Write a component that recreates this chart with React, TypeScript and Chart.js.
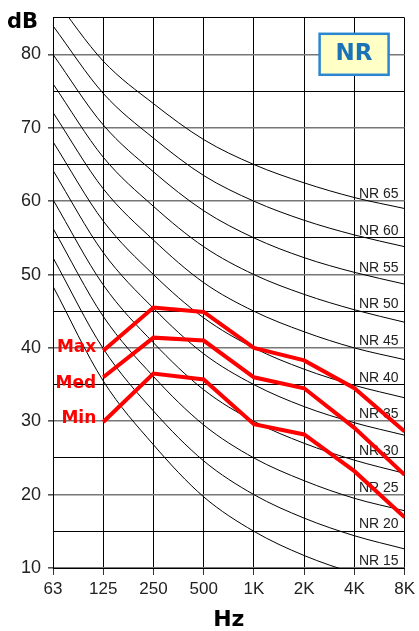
import React, { useEffect, useRef } from 'react';
import { Chart, registerables } from 'chart.js';

Chart.register(...registerables);

// Octave-band centre frequencies (x categories)
const frequencies = ['63', '125', '250', '500', '1K', '2K', '4K', '8K'];

// Y-axis range and tick step (dB)
const yMin = 10;
const yMax = 85;
const yStep = 5;

// NR reference curves (dB per octave band)
const nrLevels = [15, 20, 25, 30, 35, 40, 45, 50, 55, 60, 65];
const nr15 = [48.4, 35.5, 26.8, 19.7, 15, 11.7, 9.3, 7.5];
const nr20 = [52.3, 39.9, 31.4, 24.6, 20, 16.8, 14.4, 12.6];
const nr25 = [56.3, 44.3, 36.1, 29.5, 25, 21.9, 19.5, 17.8];
const nr30 = [60.2, 48.6, 40.7, 34.3, 30, 27.0, 24.7, 22.9];
const nr35 = [64.2, 53.0, 45.4, 39.2, 35, 32.0, 29.8, 28.1];
const nr40 = [68.1, 57.3, 50.0, 44.1, 40, 37.1, 34.9, 33.2];
const nr45 = [72.1, 61.7, 54.7, 48.9, 45, 42.2, 40.0, 38.4];
const nr50 = [76.0, 66.0, 59.3, 53.8, 50, 47.3, 45.2, 43.5];
const nr55 = [80.0, 70.4, 64.0, 58.7, 55, 52.3, 50.3, 48.7];
const nr60 = [83.9, 74.7, 68.6, 63.5, 60, 57.4, 55.4, 53.8];
const nr65 = [87.9, 79.1, 73.3, 68.4, 65, 62.5, 60.5, 59.0];
const nrCurves = [nr15, nr20, nr25, nr30, nr35, nr40, nr45, nr50, nr55, nr60, nr65];

// Measured spectra (dB)
const measuredNames = ['Max', 'Med', 'Min'];
const maxValues = [null, 39.6, 45.5, 44.9, 40.0, 38.3, 34.5, 28.6];
const medValues = [null, 36.0, 41.4, 41.0, 36.0, 34.5, 29.1, 22.7];
const minValues = [null, 29.9, 36.5, 35.7, 29.6, 28.2, 23.2, 16.9];
const measuredSeries = [maxValues, medValues, minValues];

const TICK_FONT = '"Liberation Sans", Arial, sans-serif';
const BOLD_FONT = '"DejaVu Sans", "Liberation Sans", sans-serif';

const annotationsPlugin = {
  id: 'nrAnnotations',
  beforeDatasetsDraw(chart: any) {
    const { ctx, chartArea, scales } = chart;
    const y = scales.y;
    ctx.save();
    ctx.font = `14px ${TICK_FONT}`;
    ctx.fillStyle = '#222';
    ctx.textAlign = 'right';
    ctx.textBaseline = 'alphabetic';
    nrLevels.forEach((n) => {
      const py = y.getPixelForValue(n - 5) - 3;
      ctx.fillText(`NR ${n}`, chartArea.right - 6, py);
    });
    ctx.restore();
  },
  afterDatasetsDraw(chart: any) {
    const { ctx, chartArea, scales } = chart;
    const x = scales.x;
    const y = scales.y;
    ctx.save();
    // Series labels
    const anchors = [40, 35.2, 30.4];
    ctx.font = `bold 17px ${BOLD_FONT}`;
    ctx.fillStyle = '#ff0000';
    ctx.textAlign = 'right';
    ctx.textBaseline = 'middle';
    measuredNames.forEach((name, i) => {
      ctx.fillText(name, x.getPixelForValue(1) - 7, y.getPixelForValue(anchors[i]));
    });
    // dB unit
    ctx.font = `bold 21px ${BOLD_FONT}`;
    ctx.fillStyle = '#000';
    ctx.textAlign = 'left';
    ctx.textBaseline = 'alphabetic';
    ctx.fillText('dB', 7, chartArea.top + 10);
    // NR box
    const bx = chartArea.right - 85;
    const by = chartArea.top + 16;
    const bw = 69;
    const bh = 41;
    ctx.fillStyle = '#ffffc6';
    ctx.fillRect(bx, by, bw, bh);
    ctx.strokeStyle = '#2a86d0';
    ctx.lineWidth = 2.5;
    ctx.strokeRect(bx, by, bw, bh);
    ctx.font = `bold 23px ${BOLD_FONT}`;
    ctx.fillStyle = '#1a72b8';
    ctx.textAlign = 'center';
    ctx.textBaseline = 'middle';
    ctx.fillText('NR', bx + bw / 2, by + bh / 2);
    ctx.restore();
  },
};

export default function App() {
  const canvasRef = useRef<HTMLCanvasElement | null>(null);

  useEffect(() => {
    if (!canvasRef.current) return;
    const redSets = measuredSeries.map((data, i) => ({
      label: measuredNames[i],
      data,
      borderColor: '#ff0000',
      borderWidth: 4,
      pointRadius: 0,
      fill: false,
      tension: 0,
      clip: 0,
      order: 0,
    }));
    const nrSets = nrCurves.map((data, i) => ({
      label: `NR ${nrLevels[i]}`,
      data,
      borderColor: '#000',
      borderWidth: 1,
      pointRadius: 0,
      fill: false,
      cubicInterpolationMode: 'monotone' as const,
      clip: 0,
      order: 1,
    }));

    const chart = new Chart(canvasRef.current, {
      type: 'line',
      data: { labels: frequencies, datasets: [...redSets, ...nrSets] as any },
      options: {
        animation: false,
        responsive: false,
        devicePixelRatio: 1,
        layout: { padding: { top: 17, right: 11, left: 0, bottom: 0 } },
        plugins: { legend: { display: false }, tooltip: { enabled: false } },
        scales: {
          x: {
            type: 'category',
            offset: false,
            grid: {
              color: '#000',
              lineWidth: 1,
              tickLength: 7,
              tickColor: '#333',
              offset: false,
            },
            border: { color: '#000', width: 1 },
            ticks: {
              color: '#222',
              font: { family: TICK_FONT, size: 17 },
              padding: 4,
              maxRotation: 0,
              autoSkip: false,
            },
            title: {
              display: true,
              text: 'Hz',
              color: '#000',
              font: { family: BOLD_FONT, size: 22, weight: 'bold', lineHeight: 1 },
              padding: { top: 0, bottom: 0 },
            },
            afterFit: (scale: any) => {
              scale.height = 63;
            },
          },
          y: {
            min: yMin,
            max: yMax,
            grid: {
              color: (c: any) => (c.tick && c.tick.value % 10 === 0 ? '#777' : '#000'),
              lineWidth: (c: any) => (c.tick && c.tick.value % 10 === 0 ? 1.6 : 1),
              tickLength: 5,
              tickColor: (c: any) => (c.tick && c.tick.value % 10 === 0 ? '#555' : 'rgba(0,0,0,0)'),
            },
            border: { color: '#000', width: 1 },
            ticks: {
              stepSize: yStep,
              color: '#222',
              font: { family: TICK_FONT, size: 18 },
              padding: 7,
              callback: (v: any) => (Number(v) % 10 === 0 ? String(v) : ''),
            },
            afterFit: (scale: any) => {
              scale.width = 53;
            },
          },
        },
      },
      plugins: [annotationsPlugin],
    });
    return () => chart.destroy();
  }, []);

  return (
    <div style={{ position: 'absolute', left: 0, top: 0, width: 419, height: 631, background: '#fff' }}>
      <canvas ref={canvasRef} width={419} height={631} />
    </div>
  );
}
